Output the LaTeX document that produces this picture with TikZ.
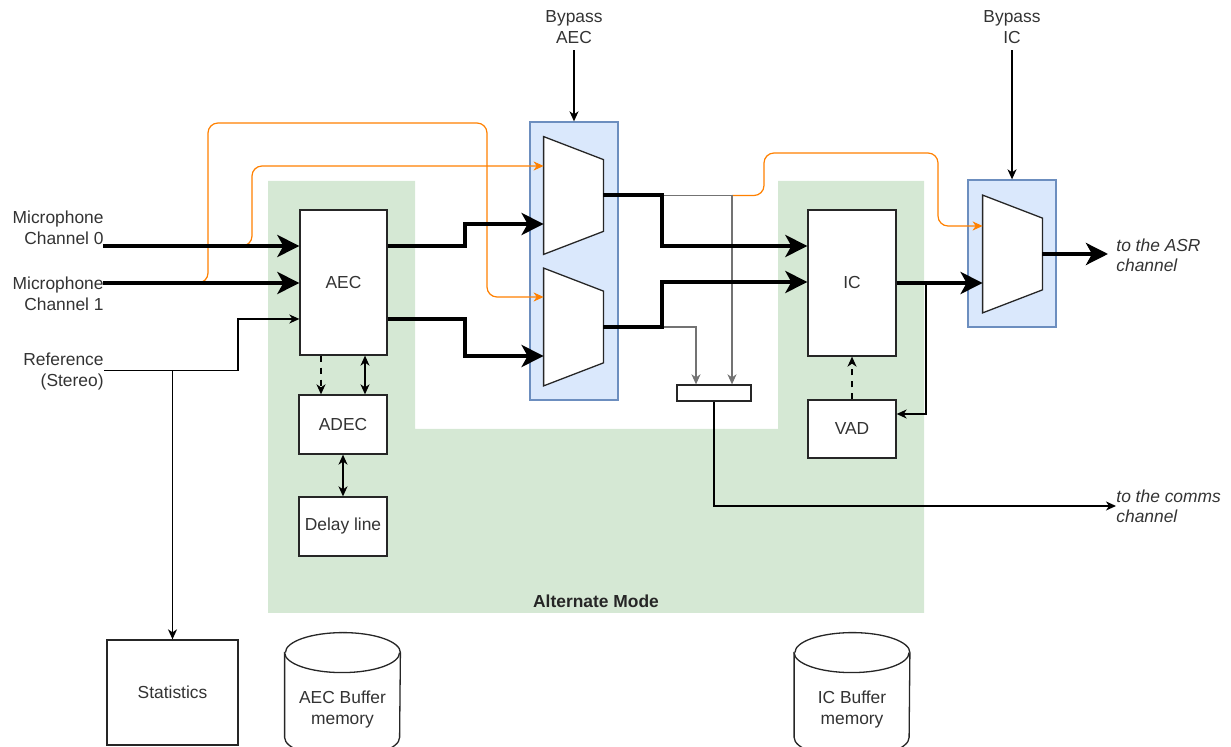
\documentclass[tikz,border=0pt]{standalone}
\usepackage{fontspec}
\setmainfont{Liberation Sans}
\usetikzlibrary{arrows.meta,shapes.geometric}
\definecolor{grn}{HTML}{D5E8D4}
\definecolor{bluefill}{HTML}{DAE8FC}
\definecolor{blueline}{HTML}{6C8EBF}
\definecolor{orng}{HTML}{FF8000}
\begin{document}
\begin{tikzpicture}[x=0.5pt,y=-0.5pt,
  font=\fontsize{8.7pt}{10.5pt}\selectfont, text=black!80,
  >={Stealth[length=5pt,width=4.5pt,inset=1.5pt]},
  blk/.style={draw=black!85, fill=white, line width=0.65pt, inner sep=0pt, align=center},
  bypass/.style={draw=blueline, fill=bluefill, line width=0.65pt, minimum width=44pt},
  mux/.style={inner sep=0pt, minimum width=29.5pt, minimum height=58.5pt},
  muxline/.style={draw=black!85, fill=white, line width=0.65pt},
  lbl/.style={align=center, inner sep=3pt},
  outlbl/.style={align=left, font=\fontsize{8.7pt}{10pt}\selectfont\itshape, inner sep=0pt},
  buf/.style={inner sep=0pt, minimum width=57.5pt, minimum height=62pt},
  buftext/.style={align=center, yshift=-7.5pt},
  thickarr/.style={line width=2pt, -{Stealth[length=11pt,width=11pt,inset=3pt]}},
  thinarr/.style={line width=0.65pt, ->},
  grayarr/.style={line width=0.65pt, draw=black!55, ->},
  orangearr/.style={line width=0.6pt, draw=orng, rounded corners=5pt, ->}
]
\useasboundingbox (0,0) rectangle (1231,747);

% mode area
\fill[grn] (268,181) -- (415,181) -- (415,429) -- (778,429) -- (778,181)
  -- (924,181) -- (924,613) -- (268,613) -- cycle;
\node[font=\fontsize{8.7pt}{10.5pt}\selectfont\bfseries, text=black!85] (altmode) at (596,601) {Alternate Mode};

% bypass blocks
\node[bypass, minimum height=139pt] (bpaec) at (574,261) {};
\node[bypass, minimum height=73.5pt] (bpic) at (1012,253.5) {};
\node[mux] (mux1) at (573.5,195.5) {};
\node[mux] (mux2) at (573.5,327) {};
\node[mux] (mux3) at (1012.5,254) {};
\foreach \m in {mux1,mux2,mux3}
  \draw[muxline] (\m.north west) -- (\m.south west) -- ([yshift=11.5pt]\m.south east)
    -- ([yshift=-11.5pt]\m.north east) -- cycle;

% blocks
\node[blk, minimum width=43.5pt, minimum height=72.5pt] (aec) at (343.5,282.5) {AEC};
\node[blk, minimum width=44pt, minimum height=29.5pt] (adec) at (343,424.5) {ADEC};
\node[blk, minimum width=44pt, minimum height=29.5pt] (delay) at (343,526.5) {Delay line};
\node[blk, minimum width=44pt, minimum height=73pt] (ic) at (852,283) {IC};
\node[blk, minimum width=44pt, minimum height=29pt] (vad) at (852,429) {VAD};
\node[blk, minimum width=37pt, minimum height=8pt] (comb) at (714,393) {};
\node[blk, minimum width=65.5pt, minimum height=52.5pt] (stats) at (172.5,692.5) {Statistics};

% buffer memories
\node[buf] (aecbuf) at (342.5,695) {};
\node[buf] (icbuf) at (852,695) {};
\foreach \m in {aecbuf,icbuf} {
  \draw[muxline] ([yshift=-10pt]\m.north west) -- ([yshift=10pt]\m.south west)
    arc[start angle=180, end angle=360, x radius=28.75pt, y radius=10pt]
    -- ([yshift=-10pt]\m.north east)
    arc[start angle=0, end angle=180, x radius=28.75pt, y radius=10pt] -- cycle;
  \draw[muxline] ([yshift=-10pt]\m.north west)
    arc[start angle=180, end angle=360, x radius=28.75pt, y radius=10pt];
}
\node[buftext] (aecbuftxt) at (aecbuf.center) {AEC Buffer\\memory};
\node[buftext] (icbuftxt) at (icbuf.center) {IC Buffer\\memory};

% labels
\node[align=right, anchor=east, inner sep=0pt] (mic0) at (104,227.5) {Microphone\\Channel 0};
\node[align=right, anchor=east, inner sep=0pt] (mic1) at (104,293.5) {Microphone\\Channel 1};
\node[align=right, anchor=east, inner sep=0pt] (ref) at (104,372) {Reference\\(Stereo)};
\node[lbl] (byaec) at (574,27.5) {Bypass\\AEC};
\node[lbl] (byic) at (1012,27.5) {Bypass\\IC};
\node[outlbl, anchor=west] (asr) at (1116,255) {to the ASR\\channel};
\node[outlbl, anchor=west] (comms) at (1116,506) {to the comms\\channel};
\coordinate (in0) at (103,246);
\coordinate (in1) at (103,283);

% bypass paths
\draw[orangearr] (198,283) -- (208,283) -- (208,123) -- (487,123) -- (487,297) -- (mux2.west |- 0,297);
\draw[orangearr] (242,246) -- (252,246) -- (252,166) -- (mux1.west |- 0,166);
\draw[orangearr] (732,195.5) -- (764,195.5) -- (764,153) -- (938,153) -- (938,226) -- (mux3.west |- 0,226);

% signal paths
\draw[thickarr] (in0) -- (in0 -| aec.west);
\draw[thickarr] (in1) -- (in1 -| aec.west);
\draw[thinarr] (ref.east |- 0,370.5) -- (238,370.5) -- (238,319) -- (aec.west |- 0,319);
\draw[thinarr] (stats.north |- 0,370.5) -- (stats.north);
\draw[thickarr] (in0 -| aec.east) -- (465,246) -- (465,224) -- (mux1.west |- 0,224);
\draw[thickarr] (aec.east |- 0,319) -- (465,319) -- (465,356) -- (mux2.west |- 0,356);
\draw[thinarr, dashed] (aec.south -| 321,0) -- (adec.north -| 321,0);
\draw[thinarr, <->] (aec.south -| 365,0) -- (adec.north -| 365,0);
\draw[thinarr, <->] (adec.south) -- (delay.north);
\draw[thinarr] (byaec.south) -- (bpaec.north);
\draw[thinarr] (byic.south) -- (bpic.north);
\draw[grayarr] (662,195.5) -- (732,195.5) -- (comb.north -| 732,0);
\draw[grayarr] (mux2.east) -- (696,327) -- (comb.north -| 696,0);
\draw[thickarr] (mux1.east) -- (662,195.5) -- (662,246) -- (ic.west |- 0,246);
\draw[thickarr] (mux2.east) -- (662,327) -- (662,282) -- (ic.west |- 0,282);
\draw[thinarr] (comb.south) |- (comms.west);
\draw[thickarr] (ic.east) -- (mux3.west |- ic.east);
\draw[thinarr] (ic.east -| 926,0) |- (vad.east |- 0,414);
\draw[thinarr, dashed] (vad.north) -- (ic.south);
\draw[thickarr, shorten >=4pt] (mux3.east) -- (mux3.east -| asr.west);
\end{tikzpicture}
\end{document}
